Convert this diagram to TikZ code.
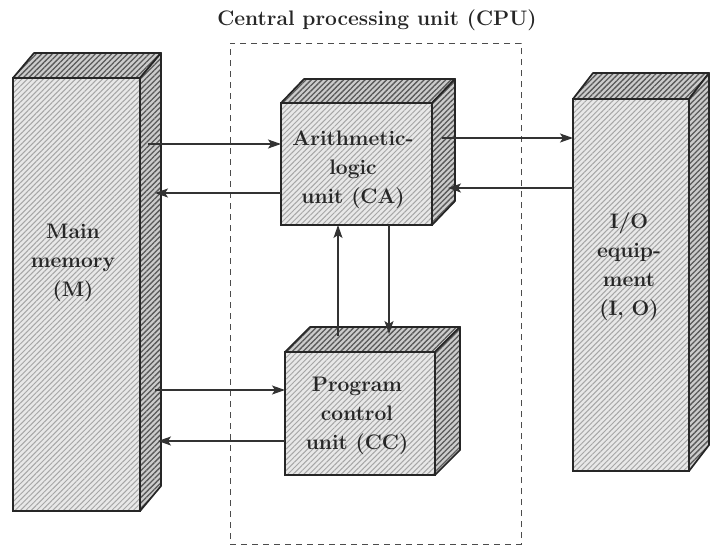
\documentclass[tikz,border=0pt]{standalone}
\usetikzlibrary{patterns.meta,arrows.meta}
\begin{document}
\begin{tikzpicture}[x=1pt,y=-1pt,
  frontface/.style={fill=gray!18,
    postaction={pattern={Lines[angle=45,distance=3.8pt,line width=1pt]}, pattern color=gray!70},
    postaction={draw=black!85, line width=1.7pt},
    inner sep=0pt, outer sep=0pt, anchor=north west},
  darkface/.style={fill=gray!40,
    postaction={pattern={Lines[angle=45,distance=3.8pt,line width=1.3pt]}, pattern color=black!65},
    postaction={draw=black!85, line width=1.7pt, line join=round}},
  lbl/.style={font=\fontsize{21}{29}\selectfont\bfseries, align=center, text=black!85},
  arr/.style={draw=black!80, line width=1.3pt, -{Stealth[length=13pt,width=9pt,inset=3pt]}},
  cpubox/.style={draw=black!70, line width=1pt, dash pattern=on 6pt off 5pt,
    inner sep=0pt, outer sep=0pt, anchor=north west}]
\useasboundingbox (0,0) rectangle (712,547);
\fill[white] (0,0) rectangle (712,547);

% CPU dashed frame and title
\node[cpubox, minimum width=291pt, minimum height=501pt] (cpu) at (230,43) {};
\node[lbl] (cpulbl) at (377,20) {Central processing unit (CPU)};

% Main memory
\node[frontface, minimum width=127pt, minimum height=433pt] (mm) at (13,78) {};
\path[darkface] (mm.north west) -- ++(21,-25) -- ++(127,0) -- (mm.north east) -- cycle;
\path[darkface] (mm.north east) -- ++(21,-25) -- ++(0,433) -- (mm.south east) -- cycle;
\node[lbl] (mmt) at (73,263) {Main\\memory\\(M)};

% Arithmetic-logic unit
\node[frontface, minimum width=151pt, minimum height=122pt] (alu) at (281,103) {};
\path[darkface] (alu.north west) -- ++(23,-24) -- ++(151,0) -- (alu.north east) -- cycle;
\path[darkface] (alu.north east) -- ++(23,-24) -- ++(0,122) -- (alu.south east) -- cycle;
\node[lbl] (alut) at (353,170) {Arithmetic-\\logic\\unit (CA)};

% Program control unit
\node[frontface, minimum width=150pt, minimum height=123pt] (pcu) at (285,352) {};
\path[darkface] (pcu.north west) -- ++(25,-25) -- ++(150,0) -- (pcu.north east) -- cycle;
\path[darkface] (pcu.north east) -- ++(25,-25) -- ++(0,123) -- (pcu.south east) -- cycle;
\node[lbl] (pcut) at (357,416) {Program\\control\\unit (CC)};

% I/O equipment
\node[frontface, minimum width=116pt, minimum height=372pt] (io) at (573,99) {};
\path[darkface] (io.north west) -- ++(20,-26) -- ++(116,0) -- (io.north east) -- cycle;
\path[darkface] (io.north east) -- ++(20,-26) -- ++(0,372) -- (io.south east) -- cycle;
\node[lbl] (iot) at (629,267) {I/O\\equip-\\ment\\(I, O)};

% connectors
\coordinate (m1) at (148,144);
\draw[arr] (m1) -- (alu.west |- m1);
\coordinate (m2) at (155,193);
\draw[arr] (alu.west |- m2) -- (m2);
\coordinate (a1) at (442,138);
\draw[arr] (a1) -- (io.west |- a1);
\coordinate (a2) at (448,188);
\draw[arr] (io.west |- a2) -- (a2);
\coordinate (p1) at (155,390);
\draw[arr] (p1) -- (pcu.west |- p1);
\coordinate (p2) at (158,441);
\draw[arr] (pcu.west |- p2) -- (p2);
\coordinate (u1) at (338,336);
\draw[arr] (u1) -- (u1 |- alu.south);
\coordinate (d1) at (389,334);
\draw[arr] (d1 |- alu.south) -- (d1);
\end{tikzpicture}
\end{document}
